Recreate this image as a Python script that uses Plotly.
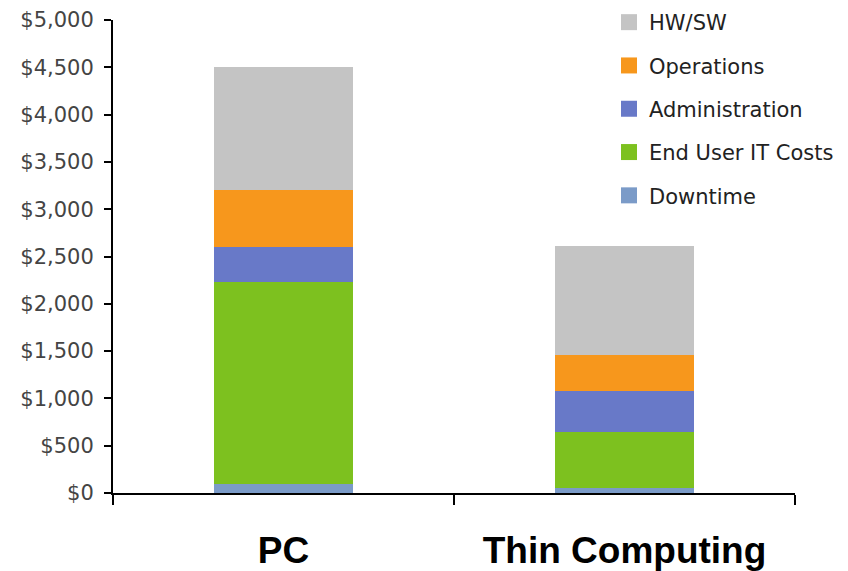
import plotly.graph_objects as go

categories = ["PC", "Thin Computing"]
series_names = ["Downtime", "End User IT Costs", "Administration", "Operations", "HW/SW"]
downtime = [100, 50]
end_user = [2130, 600]
administration = [375, 425]
operations = [595, 385]
hw_sw = [1300, 1150]
colors = ["#7B9BC8", "#7DC11F", "#6879C8", "#F7971C", "#C4C4C4"]
y_ticks = [0, 500, 1000, 1500, 2000, 2500, 3000, 3500, 4000, 4500, 5000]

values = [downtime, end_user, administration, operations, hw_sw]

fig = go.Figure()
for name, vals, col in zip(series_names, values, colors):
    fig.add_trace(go.Bar(x=categories, y=vals, name=name, marker_color=col,
                         marker_line_width=0, showlegend=False))
# legend swatches (top item = HW/SW)
for name, col in zip(series_names[::-1], colors[::-1]):
    fig.add_trace(go.Scatter(x=[None], y=[None], mode="markers", name=name,
                             marker=dict(symbol="square", size=16, color=col),
                             legendgroup=name, showlegend=True))

fig.update_layout(
    width=848, height=571,
    barmode="stack", bargap=0.59,
    plot_bgcolor="white", paper_bgcolor="white",
    margin=dict(l=105, r=61, t=12, b=86, autoexpand=False),
    font=dict(family="DejaVu Sans", color="#333333"),
    legend=dict(x=(609 - 113) / 682, y=1 + 18 / 473,
                xanchor="left", yanchor="top",
                traceorder="grouped", tracegroupgap=13,
                font=dict(family="DejaVu Sans", size=21, color="#222222"),
                itemsizing="trace", bgcolor="rgba(0,0,0,0)"),
    xaxis=dict(showline=True, linecolor="black", linewidth=2, automargin=False,
               ticks="outside", tickson="boundaries", ticklen=10,
               tickcolor="black", tickwidth=2, showgrid=False, tickangle=0,
               tickfont=dict(family="Liberation Sans", size=37, color="black",
                             weight="bold"),
               ticklabelstandoff=24),
    yaxis=dict(range=[0, 5000], tickvals=y_ticks, automargin=False,
               ticktext=["$" + f"{v:,}" for v in y_ticks],
               showline=True, linecolor="black", linewidth=2,
               ticks="outside", ticklen=7, tickcolor="black", tickwidth=2,
               showgrid=False, zeroline=False, ticklabelstandoff=6,
               tickfont=dict(family="DejaVu Sans", size=21, color="#444444")),
)

fig.write_html("out.html")
